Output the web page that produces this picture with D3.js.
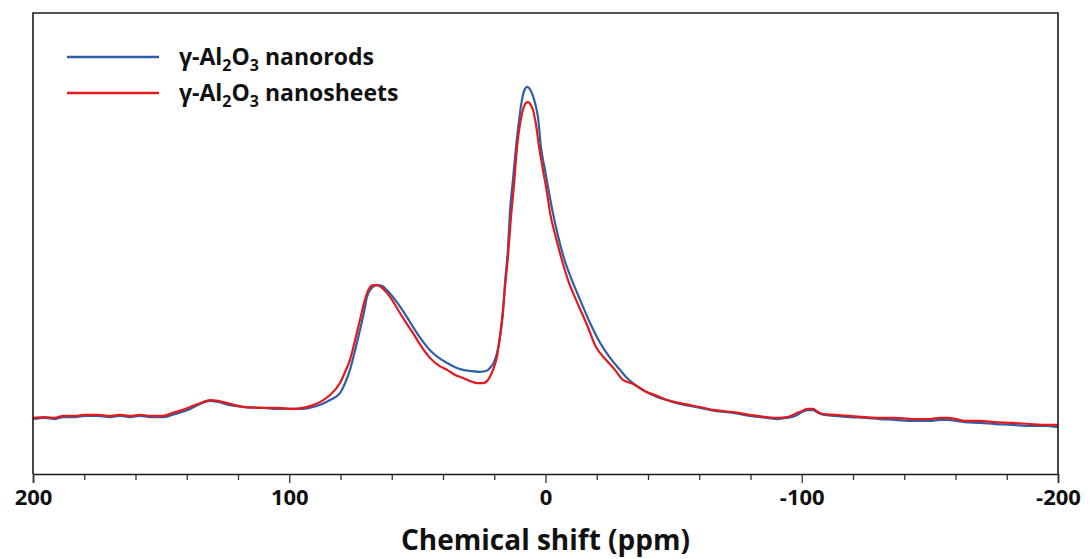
<!DOCTYPE html>
<html>
<head>
<meta charset="utf-8">
<script src="https://cdn.jsdelivr.net/npm/d3@7"></script>
<style>
  html, body { margin: 0; padding: 0; background: #fff; }
  svg { display: block; }
</style>
</head>
<body>
<svg id="chart" width="1090" height="559"></svg>
<script>
// ---- data (chemical shift in ppm, intensity in a.u., blue peak = 100) ----
const seriesNames = ["nanorods", "nanosheets"];
const seriesColors = ["#2f5ea8", "#e31a1c"];
const xTickValues = [200, 100, 0, -100, -200];
const xMinorTickValues = [180, 160, 140, 120, 80, 60, 40, 20, -20, -40, -60, -80, -120, -140, -160, -180];

const nanorods = [
  [200.0,14.2],[195.3,14.5],[191.4,14.2],[188.3,14.7],[183.6,14.7],[179.7,15.0],[175.0,15.0],[170.0,14.7],
  [166.0,15.0],[162.1,14.7],[158.2,15.0],[154.3,14.7],[149.3,14.7],[145.4,15.3],[141.9,16.0],[138.7,16.8],
  [134.8,18.1],[130.9,18.9],[127.8,18.6],[123.1,17.8],[117.3,17.3],[110.2,17.1],[104.4,16.8],[98.5,16.8],
  [94.6,16.8],[90.7,17.3],[87.2,18.1],[84.1,19.1],[80.2,20.9],[78.2,23.5],[76.3,26.9],[74.3,32.0],
  [72.4,37.2],[70.8,41.9],[69.7,45.7],[67.7,48.1],[65.8,48.8],[63.8,48.6],[61.9,47.5],[59.9,46.0],
  [58.0,44.4],[54.8,41.3],[51.7,38.0],[48.6,34.9],[45.1,32.0],[42.0,30.2],[38.4,28.7],[35.3,27.6],
  [32.2,26.9],[28.7,26.6],[25.6,26.4],[23.2,26.6],[21.7,27.4],[20.1,28.9],[18.9,31.3],[17.8,35.1],
  [16.6,41.6],[15.8,49.4],[14.6,58.7],[13.9,67.4],[12.7,76.0],[11.5,84.5],[10.3,91.5],[9.2,96.6],
  [8.0,99.5],[7.2,100.0],[6.4,99.7],[5.3,98.4],[4.1,95.9],[2.9,92.0],[1.8,84.5],[0.2,78.6],
  [-1.4,72.6],[-2.9,67.4],[-4.9,61.5],[-7.2,55.8],[-10.3,50.1],[-13.5,45.0],[-17.4,39.0],[-21.3,33.9],
  [-25.2,30.0],[-29.1,26.9],[-31.8,24.8],[-34.1,23.5],[-38.8,21.4],[-43.5,19.9],[-47.4,19.1],[-52.5,18.1],
  [-60.3,17.1],[-66.1,16.3],[-73.2,15.8],[-79.8,15.0],[-86.4,14.5],[-90.7,14.2],[-94.2,14.5],[-97.4,15.0],
  [-100.1,16.0],[-102.4,16.5],[-104.4,16.5],[-106.3,15.8],[-108.3,15.3],[-113.0,15.0],[-118.8,14.7],[-124.7,14.5],
  [-130.5,14.2],[-136.4,14.0],[-143.4,13.7],[-150.0,13.7],[-154.0,14.0],[-157.1,14.0],[-160.2,13.7],[-163.7,13.4],
  [-169.6,13.2],[-175.4,12.9],[-182.4,12.7],[-189.1,12.4],[-194.9,12.4],[-200.0,12.1]
];

const nanosheets = [
  [200.0,14.5],[195.3,14.7],[191.4,14.5],[188.3,15.0],[183.6,15.0],[179.7,15.3],[175.0,15.3],[170.0,15.0],
  [166.0,15.3],[162.1,15.0],[158.2,15.3],[154.3,15.0],[149.3,15.0],[145.4,15.8],[141.9,16.5],[138.7,17.3],
  [134.8,18.3],[130.9,19.1],[127.8,18.9],[123.1,18.1],[117.3,17.3],[110.2,17.1],[104.4,17.1],[98.5,16.8],
  [94.6,17.1],[90.7,17.8],[87.2,18.9],[84.1,20.4],[80.2,23.5],[78.2,26.4],[76.3,29.5],[74.3,34.6],
  [72.4,39.8],[70.8,44.2],[69.3,47.3],[67.3,48.8],[65.8,48.8],[63.8,48.1],[61.9,46.8],[59.9,45.0],
  [58.0,42.9],[54.8,39.5],[51.7,36.4],[48.6,33.1],[45.1,30.0],[42.0,28.2],[38.4,26.9],[35.3,25.6],
  [32.2,24.8],[29.5,24.0],[26.7,23.5],[24.4,23.5],[22.8,24.0],[21.7,25.1],[20.5,26.9],[18.9,30.5],
  [17.8,35.4],[16.6,42.4],[15.8,48.3],[14.6,56.6],[13.5,66.1],[12.3,74.7],[11.1,84.5],[10.0,90.2],
  [8.8,94.1],[7.6,95.9],[6.8,96.1],[6.0,95.6],[4.9,94.1],[3.7,90.2],[2.5,84.5],[1.0,78.6],
  [-0.6,72.6],[-1.8,67.4],[-4.1,61.0],[-6.4,55.3],[-8.8,50.1],[-12.3,44.4],[-16.2,38.5],[-19.7,32.8],
  [-23.6,29.5],[-27.1,26.9],[-30.2,24.3],[-34.1,23.3],[-38.8,21.4],[-43.5,20.2],[-47.4,19.1],[-52.5,18.3],
  [-60.3,17.3],[-66.1,16.5],[-73.2,16.0],[-79.8,15.3],[-86.4,14.7],[-90.7,14.5],[-94.2,14.7],[-97.4,15.5],
  [-100.1,16.3],[-102.4,16.8],[-104.4,16.8],[-106.3,16.0],[-108.3,15.5],[-113.0,15.3],[-118.8,15.0],[-124.7,14.7],
  [-130.5,14.5],[-136.4,14.5],[-143.4,14.2],[-150.0,14.2],[-154.0,14.5],[-157.1,14.5],[-160.2,14.2],[-163.7,13.7],
  [-169.6,13.7],[-175.4,13.4],[-182.4,13.2],[-189.1,12.9],[-194.9,12.7],[-200.0,12.7]
];

const seriesData = [nanorods, nanosheets];

// ---- layout ----
const margin = { left: 33, top: 13, right: 32, bottom: 85 };
const W = 1090, H = 559;
const iw = W - margin.left - margin.right;
const ih = H - margin.top - margin.bottom;
const FONT = "'Open Sans', 'Noto Sans', sans-serif";

const svg = d3.select("#chart");
const g = svg.append("g").attr("transform", `translate(${margin.left},${margin.top})`);

const x = d3.scaleLinear().domain([200, -200]).range([0, iw]);
const y = d3.scaleLinear().domain([0, 119.1]).range([ih, 0]);

// curves
const line = d3.line().x(d => x(d[0])).y(d => y(d[1])).curve(d3.curveMonotoneX);
seriesData.forEach((s, i) => {
  g.append("path")
    .datum(s)
    .attr("fill", "none")
    .attr("stroke", seriesColors[i])
    .attr("stroke-width", 2.2)
    .attr("stroke-linejoin", "round")
    .attr("d", line);
});

// frame (left, top, right)
g.append("path")
  .attr("d", `M0,${ih}V0H${iw}V${ih}`)
  .attr("fill", "none").attr("stroke", "#1a1a1a").attr("stroke-width", 1.6);

// minor ticks
const minorAxis = d3.axisBottom(x).tickValues(xMinorTickValues).tickSize(6).tickFormat("");
const gm = g.append("g").attr("transform", `translate(0,${ih})`).call(minorAxis);
gm.select(".domain").remove();
gm.selectAll("line").attr("stroke", "#333").attr("stroke-width", 1.3);

// major ticks + labels
const xAxis = d3.axisBottom(x).tickValues(xTickValues).tickSize(9).tickPadding(6).tickFormat(d3.format("d"));
const gx = g.append("g").attr("transform", `translate(0,${ih})`).call(xAxis);
gx.select(".domain").attr("stroke", "#1a1a1a").attr("stroke-width", 1.6);
gx.selectAll(".tick line").attr("stroke", "#333").attr("stroke-width", 1.3);
gx.selectAll(".tick text")
  .attr("font-family", FONT).attr("font-weight", 700).attr("font-size", 22)
  .attr("fill", "#111")
  .text(d => d < 0 ? "-" + Math.abs(d) : String(d));

// axis title
svg.append("text")
  .attr("x", margin.left + iw / 2).attr("y", 550)
  .attr("text-anchor", "middle")
  .attr("font-family", FONT).attr("font-weight", 700).attr("font-size", 28)
  .attr("fill", "#111")
  .text("Chemical shift (ppm)");

// legend
const legendLabels = [" nanorods", " nanosheets"];
const legend = svg.append("g");
legendLabels.forEach((lab, i) => {
  const ly = 57 + i * 36;
  legend.append("line")
    .attr("x1", 67).attr("x2", 159).attr("y1", ly).attr("y2", ly)
    .attr("stroke", seriesColors[i]).attr("stroke-width", 2.6);
  const t = legend.append("text")
    .attr("x", 179).attr("y", ly + 8)
    .attr("font-family", FONT).attr("font-weight", 700).attr("font-size", 23)
    .attr("fill", "#111");
  t.append("tspan").text("γ-Al");
  t.append("tspan").attr("font-size", 16).attr("dy", 6).text("2");
  t.append("tspan").attr("dy", -6).text("O");
  t.append("tspan").attr("font-size", 16).attr("dy", 6).text("3");
  t.append("tspan").attr("dy", -6).text(lab);
});
</script>
</body>
</html>
